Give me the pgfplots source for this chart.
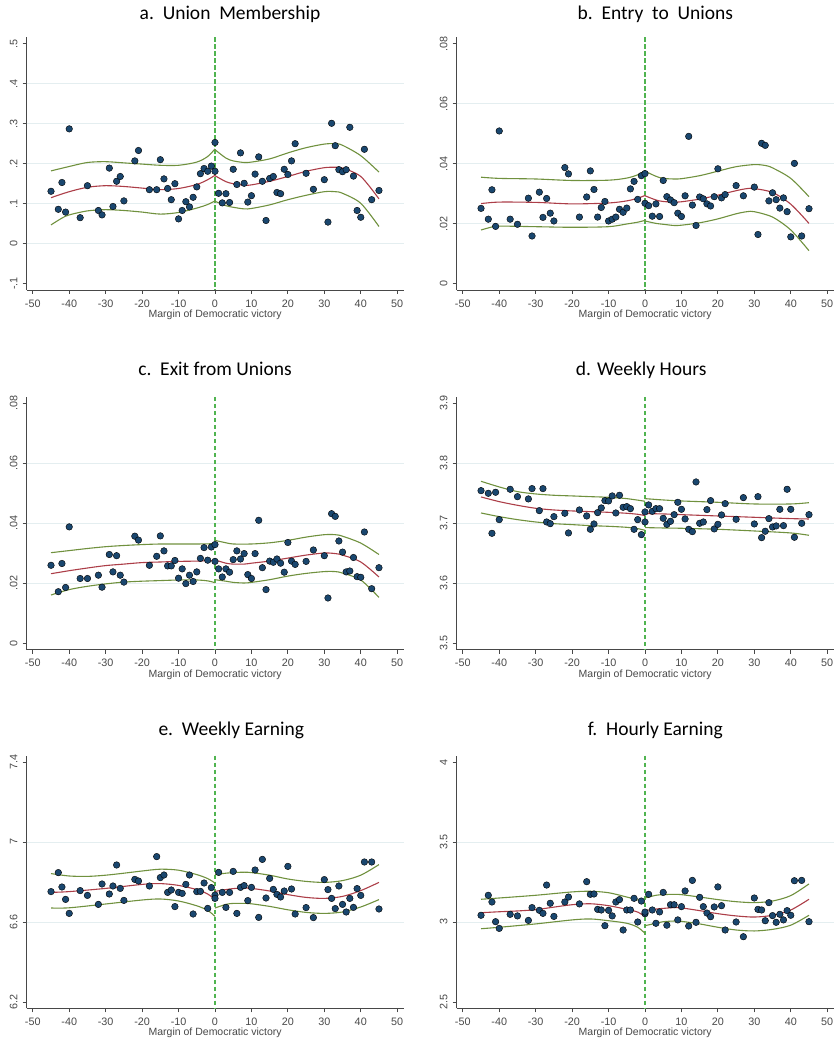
\documentclass[border=0pt]{standalone}
\usepackage{fontspec}
\usepackage{pgfplots}
\pgfplotsset{compat=1.18}
\newfontfamily\arialf{Liberation Sans}
\newfontfamily\calibrif{Carlito}
\definecolor{snavy}{RGB}{26,71,111}
\definecolor{smaroon}{RGB}{172,62,72}
\definecolor{sgreen}{RGB}{112,145,62}
\definecolor{dgreen}{RGB}{80,180,80}
\definecolor{sgrid}{RGB}{228,238,240}
\definecolor{saxis}{RGB}{72,72,72}
\pgfplotsset{
  statapanel/.style={
    scale only axis, width=377.15pt, height=252.6pt,
    xmin=-51.7, xmax=51.8,
    axis lines*=left,
    axis line style={draw=saxis, line width=0.9pt, -},
    every outer x axis line/.append style={-},
    every outer y axis line/.append style={-},
    xtick={-50,-40,-30,-20,-10,0,10,20,30,40,50},
    xticklabels={-50,-40,-30,-20,-10,0,10,20,30,40,50},
    scaled ticks=false,
    tick align=outside, major tick length=4pt,
    tick style={draw=saxis, line width=0.8pt},
    tick label style={font=\arialf\fontsize{10.8}{12}\selectfont, text=saxis},
    xticklabel style={anchor=north, inner sep=0pt},
    yticklabel style={rotate=90, anchor=south, inner sep=0pt},
    xticklabel shift=5.5pt,
    yticklabel shift=5pt,
    xlabel={Margin of Democratic victory},
    xlabel style={at={(axis description cs:0.5,0)}, anchor=base, inner sep=0pt, yshift=-27.5pt,
      font=\arialf\fontsize{10.5}{12}\selectfont, text=saxis},
    extra y tick labels={},
    extra y tick style={ymajorgrids=true, major tick length=0pt,
      major grid style={draw=sgrid, line width=0.8pt}},
  },
  dots/.style={only marks, mark=*, mark size=3.3pt, mark options={fill=snavy, draw=none, solid}},
  fitl/.style={smooth, no marks, draw=smaroon, line width=1.1pt},
  cil/.style={smooth, no marks, draw=sgreen, line width=1.1pt},
}
\tikzset{zline/.style={draw=dgreen, line width=1.8pt, line cap=butt, dash pattern=on 4.5pt off 2.5pt}}
\newcommand{\ttl}{\calibrif\fontsize{19.5}{22}\selectfont}
\begin{document}
\begin{tikzpicture}
\path[use as bounding box] (0pt,0pt) rectangle (835pt,1040pt);

% ---------------- a. Union Membership
\begin{axis}[statapanel, at={(26.6pt,750pt)}, anchor=south west,
  ymin=-0.11575, ymax=0.51575,
  ytick={-0.1,0,0.1,0.2,0.3,0.4,0.5}, yticklabels={-.1,0,.1,.2,.3,.4,.5},
  extra y ticks={0,0.1,0.2,0.3,0.4}]
\draw[zline] (axis cs:0,0.51575) -- (axis cs:0,-0.11575);
\addplot[dots] coordinates {(-45,0.131)(-43,0.086)(-42,0.153)(-41,0.079)(-40,0.287)(-37,0.065)(-35,0.145)(-32,0.083)(-31,0.072)(-29,0.189)(-28,0.093)(-27,0.156)(-26,0.168)(-25,0.107)(-22,0.207)(-21,0.233)(-18,0.135)(-16,0.135)(-15,0.210)(-14,0.162)(-13,0.138)(-12,0.110)(-11,0.150)(-10,0.062)(-9,0.083)(-8,0.105)(-7,0.092)(-6,0.116)(-5,0.142)(-4,0.175)(-3,0.188)(-2,0.181)(-1,0.194)(0,0.253)(0,0.181)(1,0.126)(2,0.102)(3,0.125)(4,0.103)(5,0.186)(6,0.148)(7,0.227)(8,0.151)(9,0.104)(10,0.120)(11,0.174)(12,0.217)(13,0.156)(14,0.058)(15,0.163)(16,0.168)(17,0.128)(18,0.125)(19,0.186)(20,0.173)(21,0.207)(22,0.250)(25,0.176)(27,0.136)(30,0.160)(31,0.054)(32,0.301)(33,0.245)(34,0.185)(35,0.180)(36,0.185)(37,0.291)(38,0.169)(39,0.083)(40,0.066)(41,0.236)(43,0.110)(45,0.133)};
\addplot[fitl] coordinates {(-45,0.115)(-40,0.130)(-35,0.141)(-30,0.145)(-25,0.143)(-20,0.139)(-15,0.135)(-10,0.138)(-5,0.148)(-2,0.160)(0,0.171)};
\addplot[fitl] coordinates {(0,0.170)(3,0.155)(5,0.150)(8,0.146)(10,0.147)(15,0.156)(20,0.168)(25,0.181)(30,0.190)(33,0.191)(35,0.189)(40,0.168)(45,0.112)};
\addplot[cil] coordinates {(-45,0.182)(-40,0.193)(-35,0.203)(-30,0.205)(-25,0.202)(-20,0.199)(-15,0.196)(-10,0.196)(-5,0.204)(-2,0.218)(0,0.237)};
\addplot[cil] coordinates {(0,0.235)(3,0.214)(5,0.207)(8,0.203)(10,0.204)(15,0.212)(20,0.227)(25,0.240)(30,0.249)(33,0.250)(35,0.246)(40,0.220)(45,0.179)};
\addplot[cil] coordinates {(-45,0.047)(-42,0.064)(-40,0.072)(-35,0.082)(-30,0.085)(-25,0.083)(-20,0.079)(-15,0.074)(-10,0.078)(-5,0.089)(-2,0.098)(0,0.107)};
\addplot[cil] coordinates {(0,0.106)(3,0.095)(5,0.091)(8,0.087)(10,0.088)(15,0.097)(20,0.110)(25,0.121)(30,0.130)(33,0.130)(35,0.126)(40,0.101)(45,0.043)};
\end{axis}

% ---------------- b. Entry to Unions
\begin{axis}[statapanel, at={(456.6pt,750pt)}, anchor=south west,
  ymin=-0.0021, ymax=0.0821,
  ytick={0,0.02,0.04,0.06,0.08}, yticklabels={0,.02,.04,.06,.08},
  extra y ticks={0.02,0.04,0.06}]
\draw[zline] (axis cs:0,0.0821) -- (axis cs:0,-0.0021);
\addplot[dots] coordinates {(-45,0.0251)(-43,0.0215)(-42,0.0313)(-41,0.0191)(-40,0.0509)(-37,0.0215)(-35,0.0198)(-32,0.0285)(-31,0.0159)(-29,0.0305)(-28,0.0221)(-27,0.0284)(-26,0.0235)(-25,0.0209)(-22,0.0387)(-21,0.0366)(-18,0.0222)(-16,0.0289)(-15,0.0376)(-14,0.0314)(-13,0.0222)(-12,0.0254)(-11,0.0274)(-10,0.0209)(-9,0.0215)(-8,0.0222)(-7,0.0248)(-6,0.0238)(-5,0.0252)(-4,0.0316)(-3,0.0341)(-2,0.0281)(-1,0.0360)(0,0.0367)(0,0.0268)(1,0.0260)(2,0.0225)(3,0.0266)(4,0.0224)(5,0.0344)(6,0.0290)(7,0.0279)(8,0.0270)(9,0.0235)(10,0.0224)(11,0.0293)(12,0.0491)(13,0.0262)(14,0.0194)(15,0.0289)(16,0.0283)(17,0.0266)(18,0.0259)(19,0.0290)(20,0.0383)(21,0.0286)(22,0.0297)(25,0.0327)(27,0.0293)(30,0.0322)(31,0.0164)(32,0.0468)(33,0.0461)(34,0.0276)(35,0.0303)(36,0.0280)(37,0.0252)(38,0.0286)(39,0.0240)(40,0.0156)(41,0.0401)(43,0.0159)(45,0.0250)};
\addplot[fitl] coordinates {(-45,0.0267)(-40,0.0272)(-30,0.0271)(-20,0.0266)(-10,0.0269)(-5,0.0276)(-2,0.0285)(0,0.0294)};
\addplot[fitl] coordinates {(0,0.0293)(3,0.0279)(5,0.0274)(8,0.0272)(10,0.0273)(15,0.0282)(20,0.0295)(25,0.0310)(28,0.0317)(30,0.0317)(35,0.0304)(40,0.0265)(45,0.0201)};
\addplot[cil] coordinates {(-45,0.0355)(-40,0.0351)(-30,0.0349)(-20,0.0344)(-10,0.0345)(-5,0.0352)(-2,0.0363)(0,0.0377)};
\addplot[cil] coordinates {(0,0.0375)(3,0.0358)(5,0.0351)(8,0.0349)(10,0.0350)(15,0.0360)(20,0.0375)(25,0.0390)(30,0.0397)(33,0.0394)(35,0.0386)(40,0.0351)(45,0.0290)};
\addplot[cil] coordinates {(-45,0.0179)(-42,0.0189)(-40,0.0192)(-30,0.0190)(-20,0.0188)(-10,0.0190)(-5,0.0199)(-2,0.0205)(0,0.0211)};
\addplot[cil] coordinates {(0,0.0209)(3,0.0201)(5,0.0198)(8,0.0194)(10,0.0195)(15,0.0203)(20,0.0216)(25,0.0233)(28,0.0240)(30,0.0240)(35,0.0222)(40,0.0179)(45,0.0110)};
\end{axis}

% ---------------- c. Exit from Unions
\begin{axis}[statapanel, at={(26.6pt,390.4pt)}, anchor=south west,
  ymin=-0.0021, ymax=0.0821,
  ytick={0,0.02,0.04,0.06,0.08}, yticklabels={0,.02,.04,.06,.08},
  extra y ticks={0.02,0.04,0.06}]
\draw[zline] (axis cs:0,0.0821) -- (axis cs:0,-0.0021);
\addplot[dots] coordinates {(-45,0.0260)(-43,0.0172)(-42,0.0266)(-41,0.0186)(-40,0.0388)(-37,0.0216)(-35,0.0216)(-32,0.0227)(-31,0.0187)(-29,0.0296)(-28,0.0238)(-27,0.0292)(-26,0.0227)(-25,0.0204)(-22,0.0357)(-21,0.0344)(-18,0.0260)(-16,0.0290)(-15,0.0358)(-14,0.0308)(-13,0.0258)(-12,0.0258)(-11,0.0276)(-10,0.0217)(-9,0.0248)(-8,0.0199)(-7,0.0227)(-6,0.0206)(-5,0.0238)(-4,0.0283)(-3,0.0319)(-2,0.0277)(-1,0.0321)(0,0.0329)(0,0.0273)(1,0.0248)(2,0.0221)(3,0.0248)(4,0.0237)(5,0.0279)(6,0.0308)(7,0.0281)(8,0.0299)(9,0.0229)(10,0.0216)(11,0.0299)(12,0.0410)(13,0.0252)(14,0.0179)(15,0.0274)(16,0.0270)(17,0.0281)(18,0.0267)(19,0.0237)(20,0.0336)(21,0.0274)(22,0.0263)(25,0.0273)(27,0.0311)(30,0.0292)(31,0.0151)(32,0.0432)(33,0.0423)(34,0.0341)(35,0.0304)(36,0.0238)(37,0.0241)(38,0.0286)(39,0.0222)(40,0.0220)(41,0.0371)(43,0.0182)(45,0.0252)};
\addplot[fitl] coordinates {(-45,0.0232)(-40,0.0242)(-35,0.0251)(-30,0.0259)(-25,0.0264)(-20,0.0269)(-15,0.0271)(-10,0.0273)(-5,0.0274)(0,0.0276)};
\addplot[fitl] coordinates {(0,0.0278)(3,0.0267)(5,0.0264)(8,0.0264)(10,0.0267)(15,0.0274)(20,0.0284)(25,0.0294)(30,0.0301)(33,0.0299)(35,0.0294)(40,0.0271)(45,0.0221)};
\addplot[cil] coordinates {(-45,0.0302)(-40,0.0309)(-35,0.0316)(-30,0.0322)(-25,0.0326)(-20,0.0329)(-15,0.0331)(-10,0.0331)(-5,0.0331)(0,0.0332)};
\addplot[cil] coordinates {(0,0.0343)(3,0.0335)(5,0.0331)(10,0.0331)(15,0.0335)(20,0.0343)(25,0.0354)(30,0.0362)(33,0.0362)(35,0.0357)(40,0.0334)(45,0.0296)};
\addplot[cil] coordinates {(-45,0.0161)(-40,0.0179)(-35,0.0190)(-30,0.0198)(-25,0.0204)(-20,0.0207)(-15,0.0209)(-10,0.0211)(-5,0.0211)(-2,0.0208)(0,0.0202)};
\addplot[cil] coordinates {(0,0.0212)(3,0.0207)(5,0.0203)(8,0.0201)(10,0.0203)(15,0.0212)(20,0.0224)(25,0.0233)(30,0.0239)(33,0.0239)(35,0.0234)(40,0.0211)(45,0.0153)};
\end{axis}

% ---------------- d. Weekly Hours
\begin{axis}[statapanel, at={(456.6pt,390.4pt)}, anchor=south west,
  ymin=3.4895, ymax=3.9105,
  ytick={3.5,3.6,3.7,3.8,3.9}, yticklabels={3.5,3.6,3.7,3.8,3.9},
  extra y ticks={3.6,3.7,3.8}]
\draw[zline] (axis cs:0,3.9105) -- (axis cs:0,3.4895);
\addplot[dots] coordinates {(-45,3.7544)(-43,3.7500)(-42,3.6833)(-41,3.7517)(-40,3.7061)(-37,3.7567)(-35,3.7444)(-32,3.7406)(-31,3.7578)(-29,3.7211)(-28,3.7578)(-27,3.7022)(-26,3.6994)(-25,3.7111)(-22,3.7167)(-21,3.6839)(-18,3.7222)(-16,3.7122)(-15,3.6900)(-14,3.6989)(-13,3.7178)(-12,3.7256)(-11,3.7378)(-10,3.7372)(-9,3.7456)(-8,3.7172)(-7,3.7467)(-6,3.7267)(-5,3.7278)(-4,3.7244)(-3,3.6900)(-2,3.7061)(-1,3.6811)(0,3.7189)(0,3.7022)(1,3.7306)(2,3.7200)(3,3.7244)(4,3.7244)(5,3.7083)(6,3.6983)(7,3.7033)(8,3.7144)(9,3.7350)(10,3.7233)(11,3.7072)(12,3.6900)(13,3.6861)(14,3.7689)(15,3.7000)(16,3.7022)(17,3.7228)(18,3.7378)(19,3.6906)(20,3.6983)(21,3.7139)(22,3.7328)(25,3.7067)(27,3.7428)(30,3.6989)(31,3.7444)(32,3.6761)(33,3.6867)(34,3.7078)(35,3.6939)(36,3.6956)(37,3.7233)(38,3.6961)(39,3.7567)(40,3.7233)(41,3.6767)(43,3.7000)(45,3.7144)};
\addplot[fitl] coordinates {(-45,3.7439)(-40,3.7361)(-35,3.7300)(-30,3.7250)(-25,3.7222)(-20,3.7206)(-15,3.7194)(-10,3.7183)(-5,3.7167)(-2,3.7150)(0,3.7128)};
\addplot[fitl] coordinates {(0,3.7161)(5,3.7156)(10,3.7144)(20,3.7122)(30,3.7100)(40,3.7078)(45,3.7072)};
\addplot[cil] coordinates {(-45,3.7700)(-40,3.7606)(-35,3.7528)(-30,3.7489)(-25,3.7467)(-20,3.7456)(-15,3.7444)(-10,3.7433)(-5,3.7411)(0,3.7367)};
\addplot[cil] coordinates {(0,3.7411)(5,3.7389)(10,3.7372)(20,3.7350)(30,3.7322)(40,3.7322)(45,3.7344)};
\addplot[cil] coordinates {(-45,3.7172)(-40,3.7111)(-35,3.7061)(-30,3.7022)(-25,3.6994)(-20,3.6978)(-15,3.6961)(-10,3.6950)(-5,3.6933)(-2,3.6911)(0,3.6883)};
\addplot[cil] coordinates {(0,3.6928)(5,3.6922)(10,3.6917)(20,3.6900)(30,3.6872)(40,3.6839)(45,3.6800)};
\end{axis}

% ---------------- e. Weekly Earning
\begin{axis}[statapanel, at={(26.6pt,31.7pt)}, anchor=south west,
  ymin=6.1685, ymax=7.4315,
  ytick={6.2,6.6,7,7.4}, yticklabels={6.2,6.6,7,7.4},
  extra y ticks={6.6,7}]
\draw[zline] (axis cs:0,7.4315) -- (axis cs:0,6.1685);
\addplot[dots] coordinates {(-45,6.752)(-43,6.847)(-42,6.775)(-41,6.713)(-40,6.643)(-37,6.757)(-35,6.733)(-32,6.688)(-31,6.790)(-29,6.740)(-28,6.780)(-27,6.885)(-26,6.768)(-25,6.708)(-22,6.813)(-21,6.805)(-18,6.780)(-16,6.927)(-15,6.822)(-14,6.835)(-13,6.748)(-12,6.760)(-11,6.677)(-10,6.748)(-9,6.743)(-8,6.788)(-7,6.835)(-6,6.640)(-5,6.752)(-4,6.753)(-3,6.795)(-2,6.668)(-1,6.772)(0,6.735)(0,6.718)(1,6.848)(2,6.748)(3,6.673)(4,6.748)(5,6.853)(6,6.643)(7,6.773)(8,6.782)(9,6.707)(10,6.773)(11,6.860)(12,6.623)(13,6.913)(14,6.720)(15,6.818)(16,6.763)(17,6.738)(18,6.725)(19,6.755)(20,6.878)(21,6.765)(22,6.640)(25,6.672)(27,6.622)(30,6.812)(31,6.762)(32,6.718)(33,6.667)(34,6.780)(35,6.688)(36,6.650)(37,6.718)(38,6.673)(39,6.767)(40,6.733)(41,6.900)(43,6.900)(45,6.665)};
\addplot[fitl] coordinates {(-45,6.748)(-40,6.752)(-30,6.768)(-20,6.788)(-15,6.792)(-10,6.783)(-5,6.762)(-2,6.740)(0,6.712)};
\addplot[fitl] coordinates {(0,6.753)(3,6.762)(5,6.767)(8,6.770)(10,6.768)(15,6.755)(20,6.737)(25,6.723)(30,6.718)(35,6.728)(40,6.757)(45,6.798)};
\addplot[cil] coordinates {(-45,6.842)(-40,6.830)(-35,6.828)(-30,6.834)(-25,6.844)(-20,6.855)(-15,6.864)(-10,6.859)(-5,6.837)(-2,6.817)(0,6.795)};
\addplot[cil] coordinates {(0,6.837)(3,6.844)(5,6.847)(8,6.849)(10,6.847)(15,6.834)(20,6.815)(25,6.803)(30,6.798)(35,6.807)(40,6.834)(45,6.887)};
\addplot[cil] coordinates {(-45,6.670)(-40,6.671)(-30,6.690)(-20,6.710)(-15,6.715)(-10,6.705)(-5,6.681)(-2,6.658)(0,6.628)};
\addplot[cil] coordinates {(0,6.670)(3,6.688)(5,6.693)(8,6.693)(10,6.691)(15,6.678)(20,6.661)(25,6.648)(30,6.643)(35,6.650)(40,6.675)(45,6.712)};
\end{axis}

% ---------------- f. Hourly Earning
\begin{axis}[statapanel, at={(456.6pt,31.7pt)}, anchor=south west,
  ymin=2.4606, ymax=4.0394,
  ytick={2.5,3,3.5,4}, yticklabels={2.5,3,3.5,4},
  extra y ticks={3,3.5}]
\draw[zline] (axis cs:0,4.0394) -- (axis cs:0,2.4606);
\addplot[dots] coordinates {(-45,3.042)(-43,3.167)(-42,3.125)(-41,3.002)(-40,2.960)(-37,3.048)(-35,3.038)(-32,3.010)(-31,3.090)(-29,3.073)(-28,3.054)(-27,3.231)(-26,3.117)(-25,3.035)(-22,3.125)(-21,3.156)(-18,3.113)(-16,3.252)(-15,3.173)(-14,3.175)(-13,3.079)(-12,3.075)(-11,2.977)(-10,3.073)(-9,3.038)(-8,3.125)(-7,3.140)(-6,2.950)(-5,3.075)(-4,3.075)(-3,3.148)(-2,3.000)(-1,3.131)(0,3.052)(0,3.062)(1,3.173)(2,3.075)(3,2.992)(4,3.063)(5,3.185)(6,2.980)(7,3.108)(8,3.108)(9,3.013)(10,3.096)(11,3.194)(12,2.975)(13,3.260)(14,2.998)(15,3.154)(16,3.096)(17,3.056)(18,3.033)(19,3.094)(20,3.219)(21,3.102)(22,2.950)(25,3.000)(27,2.908)(30,3.150)(31,3.079)(32,3.075)(33,3.008)(34,3.121)(35,3.040)(36,2.998)(37,3.048)(38,3.013)(39,3.071)(40,3.042)(41,3.258)(43,3.260)(45,3.002)};
\addplot[fitl] coordinates {(-45,3.058)(-40,3.064)(-35,3.069)(-30,3.077)(-25,3.093)(-20,3.108)(-15,3.114)(-10,3.102)(-5,3.079)(-2,3.062)(0,3.033)};
\addplot[fitl] coordinates {(0,3.071)(3,3.081)(5,3.085)(8,3.090)(10,3.088)(15,3.071)(20,3.052)(25,3.038)(30,3.031)(35,3.042)(40,3.075)(45,3.142)};
\addplot[cil] coordinates {(-45,3.142)(-40,3.150)(-30,3.167)(-20,3.188)(-15,3.192)(-10,3.183)(-5,3.156)(-2,3.138)(0,3.119)};
\addplot[cil] coordinates {(0,3.150)(3,3.167)(5,3.171)(8,3.173)(10,3.171)(15,3.156)(20,3.140)(25,3.127)(30,3.121)(35,3.131)(40,3.165)(45,3.238)};
\addplot[cil] coordinates {(-45,2.958)(-40,2.967)(-30,2.988)(-20,3.013)(-15,3.019)(-10,3.008)(-5,2.992)(-2,2.967)(0,2.929)};
\addplot[cil] coordinates {(0,2.977)(3,2.992)(5,3.002)(8,3.006)(10,3.004)(15,2.988)(20,2.967)(25,2.950)(30,2.944)(35,2.954)(40,2.980)(45,3.042)};
\end{axis}

% ---------------- titles
\node[font=\ttl, anchor=base, inner sep=0pt] at (230pt,1020.7pt) {a.\ \ Union\ \ Membership};
\node[font=\ttl, anchor=base, inner sep=0pt] at (655.3pt,1020.7pt) {b.\ \ Entry\ \ to\ \ Unions};
\node[font=\ttl, anchor=base, inner sep=0pt] at (215pt,664pt) {c.\ \ Exit from Unions};
\node[font=\ttl, anchor=base, inner sep=0pt] at (641.2pt,664pt) {d. Weekly Hours};
\node[font=\ttl, anchor=base, inner sep=0pt] at (231.3pt,304pt) {e.\ \ Weekly Earning};
\node[font=\ttl, anchor=base, inner sep=0pt] at (655.3pt,304pt) {f.\ \ Hourly Earning};
\end{tikzpicture}
\end{document}
